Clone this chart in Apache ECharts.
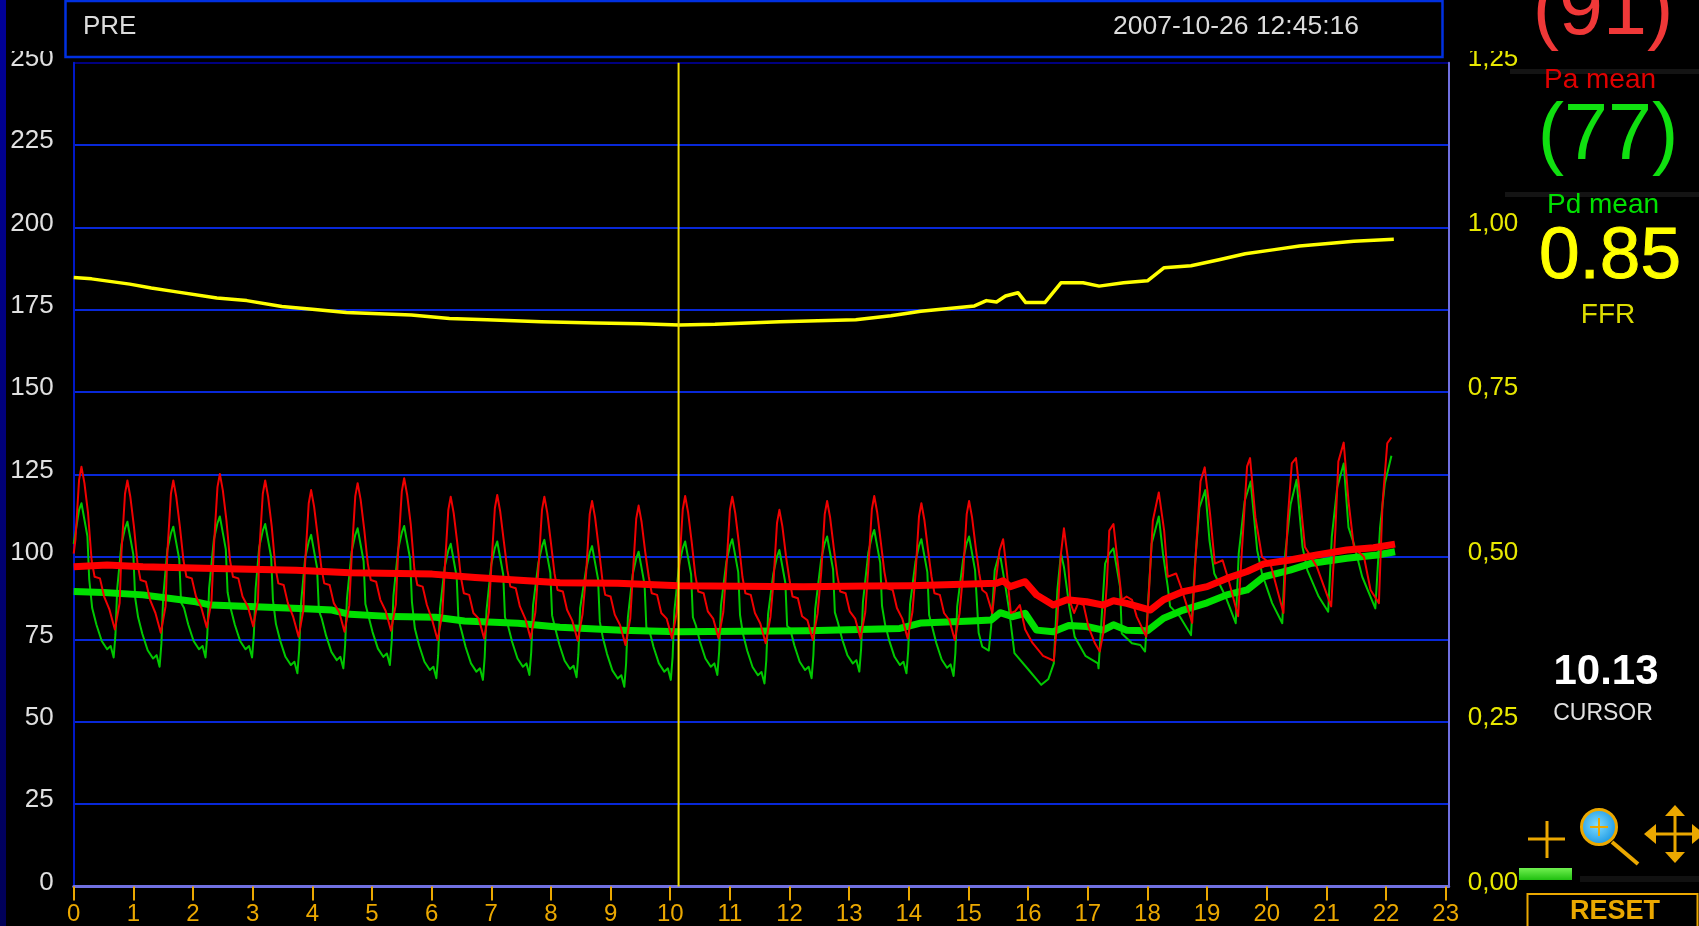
<!DOCTYPE html>
<html><head><meta charset="utf-8"><style>html,body{margin:0;padding:0;background:#000;overflow:hidden}#c{width:1699px;height:926px}</style>
<script src="https://cdn.jsdelivr.net/npm/echarts@6/dist/echarts.min.js"></script></head><body><div id="c"></div>
<script>
const xTicks=[0,1,2,3,4,5,6,7,8,9,10,11,12,13,14,15,16,17,18,19,20,21,22,23];
const cursorTime=[10.14];
const headerLabels=["PRE","2007-10-26 12:45:16"];
const readouts=["(91)","Pa mean","(77)","Pd mean","0.85","FFR","10.13","CURSOR","RESET"];
const ffr=[[0,.924],[.3,.922],[.94,.914],[1.3,.908],[1.67,.903],[2.4,.893],[2.9,.889],[3.49,.880],[4.0,.876],[4.57,.871],[5.66,.867],[6.3,.862],[6.93,.860],[7.84,.857],[8.75,.855],[9.5,.854],[10.15,.852],[10.75,.853],[11.84,.857],[13.11,.860],[13.7,.866],[14.2,.873],[15.1,.881],[15.3,.889],[15.47,.887],[15.62,.896],[15.83,.901],[15.96,.886],[16.28,.886],[16.55,.916],[16.92,.916],[17.19,.911],[17.6,.916],[18.0,.919],[18.28,.939],[18.73,.942],[19.2,.951],[19.64,.960],[20.1,.966],[20.55,.972],[21.46,.979],[22.13,.982]];
const paMean=[[0,97],[.56,97.6],[1.16,97],[2.18,96.6],[3.73,96],[4.63,95.2],[6.01,94.8],[6.73,93.8],[8.15,92.2],[9.12,92],[10.14,91.3],[12.24,91],[13.31,91.2],[14.03,91.3],[15.47,92],[15.58,92.8],[15.7,91],[15.95,92.5],[16.14,88.5],[16.42,85.4],[16.65,87],[16.98,86.4],[17.26,85.4],[17.43,86.7],[17.65,85.9],[18.05,83.9],[18.27,87],[18.6,89.5],[19,91],[19.33,93.5],[19.67,95.6],[19.95,97.9],[20.39,99.1],[20.84,100.6],[21.34,102.1],[21.79,102.8],[22.15,103.9]];
const pdMean=[[0,89.5],[.5,89.2],[1.16,88.5],[2.05,86.4],[2.3,85.4],[3.79,84.4],[4.33,83.9],[4.63,82.6],[5.35,81.9],[6.07,81.7],[6.55,80.6],[7.45,79.9],[8.15,78.7],[9.18,77.8],[10.14,77.3],[12.3,77.6],[13.85,78.3],[14.21,80],[15.05,80.6],[15.38,80.9],[15.53,83.1],[15.74,81.9],[15.95,82.9],[16.14,77.8],[16.42,77.3],[16.68,79.2],[16.98,78.9],[17.26,77.8],[17.43,79.4],[17.65,77.8],[18.0,77.6],[18.27,81.4],[18.6,83.9],[19,86.1],[19.33,88.5],[19.67,90],[19.95,94],[20.39,96],[20.73,98],[21.34,99.6],[21.85,100.6],[22.15,101.6]];
const paPhasic=[[0,101],[.03,105.4],[.09,123.4],[.13,127.4],[.18,122.4],[.24,113.4],[.30,99],[.35,94],[.44,93.5],[.51,88],[.60,84],[.69,78],[.77,86],[.80,101.2],[.86,119.2],[.90,123.2],[.95,118.2],[1.01,109.2],[1.07,98],[1.12,93],[1.21,92.5],[1.28,87],[1.37,83],[1.46,77],[1.54,85],[1.57,101.2],[1.63,119.2],[1.67,123.2],[1.72,118.2],[1.78,109.2],[1.84,99],[1.89,94],[1.98,93.5],[2.05,88],[2.14,84.6],[2.23,78.6],[2.31,86.6],[2.35,103.2],[2.41,121.2],[2.45,125.2],[2.50,120.2],[2.56,111.2],[2.62,99],[2.67,94],[2.76,93.5],[2.83,88],[2.92,84.9],[3.01,78.9],[3.09,86.9],[3.11,101.2],[3.17,119.2],[3.21,123.2],[3.26,118.2],[3.32,109.2],[3.38,97],[3.43,92],[3.52,91.5],[3.59,86],[3.68,81.8],[3.77,75.8],[3.85,83.8],[3.88,98.3],[3.94,116.3],[3.98,120.3],[4.03,115.3],[4.09,106.3],[4.15,97],[4.20,92],[4.29,91.5],[4.36,86],[4.45,83.3],[4.54,77.3],[4.62,85.3],[4.66,100.4],[4.72,118.4],[4.76,122.4],[4.81,117.4],[4.87,108.4],[4.93,98],[4.98,93],[5.07,92.5],[5.14,87],[5.23,83.6],[5.32,77.6],[5.40,85.6],[5.44,101.9],[5.50,119.9],[5.54,123.9],[5.59,118.9],[5.65,109.9],[5.71,96.5],[5.76,91.5],[5.85,91],[5.92,85.5],[6.01,80.8],[6.10,74.8],[6.18,82.8],[6.22,96.3],[6.28,114.3],[6.32,118.3],[6.37,113.3],[6.43,104.3],[6.49,94],[6.54,89],[6.63,88.5],[6.70,83],[6.79,81.3],[6.88,75.3],[6.96,83.3],[7.00,96.8],[7.06,114.8],[7.10,118.8],[7.15,113.8],[7.21,104.8],[7.27,96],[7.32,91],[7.41,90.5],[7.48,85],[7.57,81.3],[7.66,75.3],[7.74,83.3],[7.79,96.3],[7.85,114.3],[7.89,118.3],[7.94,113.3],[8.00,104.3],[8.06,95],[8.11,90],[8.20,89.5],[8.27,84],[8.36,80.6],[8.45,74.6],[8.53,82.6],[8.59,95],[8.65,113],[8.69,117],[8.74,112],[8.80,103],[8.86,93.5],[8.91,88.5],[9.00,88],[9.07,82.5],[9.16,79.3],[9.25,73.3],[9.33,81.3],[9.37,93.6],[9.43,111.6],[9.47,115.6],[9.52,110.6],[9.58,101.6],[9.64,94],[9.69,89],[9.78,88.5],[9.85,83],[9.94,81.3],[10.03,75.3],[10.11,83.3],[10.15,96.5],[10.21,114.5],[10.25,118.5],[10.30,113.5],[10.36,104.5],[10.42,94.5],[10.47,89.5],[10.56,89],[10.63,83.5],[10.72,81.3],[10.81,75.3],[10.89,83.3],[10.94,96.3],[11.00,114.3],[11.04,118.3],[11.09,113.3],[11.15,104.3],[11.21,94],[11.26,89],[11.35,88.5],[11.42,83],[11.51,79.8],[11.60,73.8],[11.68,81.8],[11.73,92.3],[11.79,110.3],[11.83,114.3],[11.88,109.3],[11.94,100.3],[12.00,93],[12.05,88],[12.14,87.5],[12.21,82],[12.30,80.8],[12.39,74.8],[12.47,82.8],[12.53,95],[12.59,113],[12.63,117],[12.68,112],[12.74,103],[12.80,94.5],[12.85,89.5],[12.94,89],[13.01,83.5],[13.10,81.3],[13.19,75.3],[13.27,83.3],[13.32,96.5],[13.38,114.5],[13.42,118.5],[13.47,113.5],[13.53,104.5],[13.59,95.5],[13.64,90.5],[13.73,90],[13.80,84.5],[13.89,81.3],[13.98,75.3],[14.06,83.3],[14.11,94.3],[14.17,112.3],[14.21,116.3],[14.26,111.3],[14.32,102.3],[14.38,94],[14.43,89],[14.52,88.5],[14.59,83],[14.68,80.8],[14.77,74.8],[14.85,82.8],[14.91,95],[14.97,113],[15.01,117],[15.06,112],[15.12,103],[15.18,95],[15.23,90],[15.30,89],[15.40,83],[15.44,90],[15.52,102],[15.58,105.4],[15.64,96],[15.71,83],[15.78,83.5],[15.86,85.4],[15.95,78],[16.07,74],[16.25,70],[16.43,68.5],[16.49,81],[16.55,101],[16.60,108.7],[16.67,99],[16.71,86],[16.77,83],[16.84,86.1],[16.93,85.4],[17.01,78.9],[17.12,73.8],[17.2,71.3],[17.26,77],[17.32,92],[17.36,108],[17.43,110],[17.51,97],[17.57,87],[17.65,88],[17.74,87],[17.82,81.9],[17.98,75.8],[18.03,91],[18.09,111],[18.19,119.6],[18.28,108],[18.34,94],[18.48,95],[18.56,91],[18.75,80],[18.81,101],[18.89,123],[18.96,127.2],[19.05,113],[19.13,98],[19.26,99],[19.36,93],[19.52,82],[19.58,101],[19.67,127.5],[19.72,130],[19.81,112],[19.92,100],[20.06,98],[20.28,83],[20.35,111],[20.42,128.4],[20.49,130],[20.56,118],[20.64,103],[20.84,97],[21.08,85],[21.15,108],[21.2,129],[21.29,134.7],[21.37,117],[21.46,103],[21.63,100],[21.74,90],[21.88,86],[21.94,116],[22.02,134.5],[22.09,136.3]];
const pdPhasic=[[0,104],[.09,114.3],[.13,116.3],[.18,111.3],[.23,106.3],[.26,93.3],[.31,84.5],[.38,79.5],[.47,74.5],[.56,72],[.62,73],[.67,69.5],[.70,76.5],[.73,90.5],[.80,103.7],[.86,108.7],[.90,110.7],[.95,105.7],[1.00,100.7],[1.03,87.7],[1.08,81.7],[1.15,76.7],[1.24,71.7],[1.33,69.2],[1.39,70.2],[1.44,66.7],[1.47,73.7],[1.50,87.7],[1.57,102.2],[1.63,107.2],[1.67,109.2],[1.72,104.2],[1.77,99.2],[1.80,86.2],[1.85,84.5],[1.92,79.5],[2.01,74.5],[2.10,72],[2.16,73],[2.21,69.5],[2.24,76.5],[2.27,90.5],[2.35,105.3],[2.41,110.3],[2.45,112.3],[2.50,107.3],[2.55,102.3],[2.58,89.3],[2.63,84.5],[2.70,79.5],[2.79,74.5],[2.88,72],[2.94,73],[2.99,69.5],[3.02,76.5],[3.05,90.5],[3.11,103],[3.17,108],[3.21,110],[3.26,105],[3.31,100],[3.34,87],[3.39,79.7],[3.46,74.7],[3.55,69.7],[3.64,67.2],[3.70,68.2],[3.75,64.7],[3.78,71.7],[3.81,85.7],[3.88,99.7],[3.94,104.7],[3.98,106.7],[4.03,101.7],[4.08,96.7],[4.11,83.7],[4.16,81.2],[4.23,76.2],[4.32,71.2],[4.41,68.7],[4.47,69.7],[4.52,66.2],[4.55,73.2],[4.58,87.2],[4.66,101.7],[4.72,106.7],[4.76,108.7],[4.81,103.7],[4.86,98.7],[4.89,85.7],[4.94,82.2],[5.01,77.2],[5.10,72.2],[5.19,69.7],[5.25,70.7],[5.30,67.2],[5.33,74.2],[5.36,88.2],[5.44,102.4],[5.50,107.4],[5.54,109.4],[5.59,104.4],[5.64,99.4],[5.67,86.4],[5.72,78.2],[5.79,73.2],[5.88,68.2],[5.97,65.7],[6.03,66.7],[6.08,63.2],[6.11,70.2],[6.14,84.2],[6.22,97],[6.28,102],[6.32,104],[6.37,99],[6.42,94],[6.45,81],[6.50,77.7],[6.57,72.7],[6.66,67.7],[6.75,65.2],[6.81,66.2],[6.86,62.7],[6.89,69.7],[6.92,83.7],[7.00,97.7],[7.06,102.7],[7.10,104.7],[7.15,99.7],[7.20,94.7],[7.23,81.7],[7.28,79.2],[7.35,74.2],[7.44,69.2],[7.53,66.7],[7.59,67.7],[7.64,64.2],[7.67,71.2],[7.70,85.2],[7.79,98.2],[7.85,103.2],[7.89,105.2],[7.94,100.2],[7.99,95.2],[8.02,82.2],[8.07,78.5],[8.14,73.5],[8.23,68.5],[8.32,66],[8.38,67],[8.43,63.5],[8.46,70.5],[8.49,84.5],[8.59,96.3],[8.65,101.3],[8.69,103.3],[8.74,98.3],[8.79,93.3],[8.82,80.3],[8.87,75.6],[8.94,70.6],[9.03,65.6],[9.12,63.1],[9.18,64.1],[9.23,60.6],[9.26,67.6],[9.29,81.6],[9.37,94.6],[9.43,99.6],[9.47,101.6],[9.52,96.6],[9.57,91.6],[9.60,78.6],[9.65,77.7],[9.72,72.7],[9.81,67.7],[9.90,65.2],[9.96,66.2],[10.01,62.7],[10.04,69.7],[10.07,83.7],[10.15,97.7],[10.21,102.7],[10.25,104.7],[10.30,99.7],[10.35,94.7],[10.38,81.7],[10.43,79.2],[10.50,74.2],[10.59,69.2],[10.68,66.7],[10.74,67.7],[10.79,64.2],[10.82,71.2],[10.85,85.2],[10.94,98.4],[11.00,103.4],[11.04,105.4],[11.09,100.4],[11.14,95.4],[11.17,82.4],[11.22,76.6],[11.29,71.6],[11.38,66.6],[11.47,64.1],[11.53,65.1],[11.58,61.6],[11.61,68.6],[11.64,82.6],[11.73,95.1],[11.79,100.1],[11.83,102.1],[11.88,97.1],[11.93,92.1],[11.96,79.1],[12.01,78.2],[12.08,73.2],[12.17,68.2],[12.26,65.7],[12.32,66.7],[12.37,63.2],[12.40,70.2],[12.43,84.2],[12.53,99.2],[12.59,104.2],[12.63,106.2],[12.68,101.2],[12.73,96.2],[12.76,83.2],[12.81,80.2],[12.88,75.2],[12.97,70.2],[13.06,67.7],[13.12,68.7],[13.17,65.2],[13.20,72.2],[13.23,86.2],[13.32,101.2],[13.38,106.2],[13.42,108.2],[13.47,103.2],[13.52,98.2],[13.55,85.2],[13.60,79.7],[13.67,74.7],[13.76,69.7],[13.85,67.2],[13.91,68.2],[13.96,64.7],[13.99,71.7],[14.02,85.7],[14.11,98.4],[14.17,103.4],[14.21,105.4],[14.26,100.4],[14.31,95.4],[14.34,82.4],[14.39,78.9],[14.46,73.9],[14.55,68.9],[14.64,66.4],[14.70,67.4],[14.75,63.9],[14.78,70.9],[14.81,84.9],[14.91,99.2],[14.97,104.2],[15.01,106.2],[15.11,96],[15.17,77],[15.23,72.8],[15.34,71.6],[15.38,79],[15.44,96],[15.5,100],[15.54,99.5],[15.62,91],[15.68,84],[15.77,70.8],[16.01,65.7],[16.22,61.2],[16.34,63],[16.43,67.7],[16.49,90],[16.55,101],[16.6,97],[16.69,85],[16.78,75.8],[16.96,70],[17.17,67.7],[17.18,66.2],[17.23,81],[17.29,98],[17.36,101],[17.43,102.6],[17.54,91],[17.57,76.8],[17.74,73.8],[17.88,73.3],[17.96,71.3],[18.0,83],[18.07,104],[18.19,112.3],[18.26,101],[18.34,91],[18.38,85],[18.54,82],[18.73,76.3],[18.79,96],[18.87,115],[18.97,120.3],[19.04,105],[19.12,95],[19.31,88],[19.48,79.9],[19.53,101],[19.63,117],[19.73,122.9],[19.84,102],[19.92,95],[20.09,86],[20.26,79.9],[20.31,101],[20.4,116],[20.5,123.4],[20.6,103],[20.68,96],[20.87,88],[21.03,83.4],[21.09,106],[21.18,121],[21.29,128.4],[21.37,109],[21.46,104],[21.6,94],[21.82,84.4],[21.9,109],[21.98,122.4],[22.09,130.7]];

const sans="'Liberation Sans',Arial,sans-serif";
const line=(name,data,color,width,yAxisIndex,z)=>({name,type:'line',data,yAxisIndex:yAxisIndex||0,symbol:'none',showSymbol:false,silent:true,z,
  lineStyle:{color,width,join:'round'},itemStyle:{color},emphasis:{disabled:true}});
const txt=(text,x,y,size,fill,opts)=>({type:'text',z:200,silent:true,style:Object.assign({text,x,y,fill,font:`${size}px ${sans}`,textAlign:'center',textVerticalAlign:'middle'},opts||{})});
const rect=(x,y,w,h,fill,z)=>({type:'rect',silent:true,z:z||150,shape:{x,y,width:w,height:h},style:{fill}});
const seg=(x1,y1,x2,y2,col,w)=>({type:'line',silent:true,z:200,shape:{x1,y1,x2,y2},style:{stroke:col,lineWidth:w}});
const tri=(pts,col)=>({type:'polygon',silent:true,z:200,shape:{points:pts},style:{fill:col}});
const orange='#eba800';

const chart=echarts.init(document.getElementById('c'),null,{renderer:'canvas'});
chart.setOption({
  animation:false,backgroundColor:'#000',
  grid:{left:73.7,top:62.7,width:1375,height:823.8,containLabel:false,outerBoundsMode:'none'},
  xAxis:[{type:'value',min:0,max:23.05,offset:4,splitLine:{show:false},axisLine:{show:false},
      axisTick:{show:true,length:14,lineStyle:{color:orange,width:2},customValues:xTicks},
      axisLabel:{color:orange,fontFamily:sans,fontSize:24,margin:12,customValues:xTicks,hideOverlap:false,formatter:v=>String(v)}},
    {type:'value',min:0,max:23.05,position:'bottom',splitLine:{show:false},axisTick:{show:false},axisLabel:{show:false},
      axisLine:{show:true,onZero:false,lineStyle:{color:'#7070e0',width:3}}}],
  yAxis:[{type:'value',min:0,max:250,interval:25,axisTick:{show:false},
      axisLine:{show:true,onZero:false,lineStyle:{color:'#0018c8',width:2}},
      axisLabel:{color:'#e0e0e0',fontFamily:sans,fontSize:26,margin:20,verticalAlign:'bottom',lineHeight:8},
      splitLine:{show:true,lineStyle:{width:2,color:['#0828d8','#0828d8','#0828d8','#0828d8','#0828d8','#0828d8','#0828d8','#0828d8','#0828d8','#0828d8','#000080']}}},
    {type:'value',min:0,max:1.25,interval:.25,position:'right',axisTick:{show:false},splitLine:{show:false},
      axisLine:{show:true,onZero:false,lineStyle:{color:'#7070e0',width:2}},
      axisLabel:{color:'#e8e800',fontFamily:sans,fontSize:26,margin:19,verticalAlign:'bottom',lineHeight:8,formatter:v=>v.toFixed(2).replace('.',',')}}],
  series:[
    line('FFR',ffr,'#ffff00',3.5,1,3),
    line('Pd phasic',pdPhasic,'#00c800',2,0,4),
    line('Pd mean',pdMean,'#00e000',7,0,5),
    line('Pa phasic',paPhasic,'#f00000',2,0,6),
    line('Pa mean',paMean,'#ff0000',7,0,7),
    {type:'line',name:'Cursor',symbol:'none',silent:true,z:8,data:[[cursorTime[0],0],[cursorTime[0],250]],lineStyle:{color:'#f0e000',width:2}}
  ],
  graphic:[
    {type:'rect',silent:true,z:150,shape:{x:0,y:0,width:6,height:926},style:{fill:new echarts.graphic.LinearGradient(0,0,0,1,[{offset:0,color:'#000098'},{offset:1,color:'#000058'}])}},
    rect(6,0,59,51,'#000'),rect(1450,0,90,51,'#000'),
    {type:'rect',silent:true,z:160,shape:{x:65.5,y:1,width:1377,height:56},style:{fill:'#000',stroke:'#0030e0',lineWidth:2.5}},
    txt(headerLabels[0],83,27,26,'#dcdcdc',{textAlign:'left'}),
    txt(headerLabels[1],1236,27,26.5,'#dcdcdc'),
    rect(1510,69,189,5,'#141414',140),rect(1505,192,194,5,'#141414',140),rect(1580,876,119,6,'#111',140),
    txt(readouts[0],1603,12,79,'#f03838'),
    txt(readouts[1],1600,80,28,'#e00000'),
    txt(readouts[2],1608,137,79,'#10e010'),
    txt(readouts[3],1603,205,28,'#00e000'),
    txt(readouts[4],1610,258,73,'#ffff00',{stroke:'#ffff00',lineWidth:1}),
    txt(readouts[5],1608,315,28,'#dcdc00'),
    txt(readouts[6],1606,672,42,'#ffffff',{font:`bold 42px ${sans}`}),
    txt(readouts[7],1603,714,23,'#e0e0e0'),
    seg(1528,839,1565,839,orange,3),seg(1547,821,1547,858,orange,3),
    seg(1612,842,1638,864,orange,4),
    {type:'circle',silent:true,z:200,shape:{cx:1599,cy:827,r:17.5},style:{stroke:orange,lineWidth:3,fill:new echarts.graphic.RadialGradient(.45,.45,.6,[{offset:0,color:'#7fdcff'},{offset:1,color:'#1090e0'}])}},
    seg(1590,827,1608,827,orange,2),seg(1599,818,1599,836,orange,2),
    seg(1650,834,1699,834,orange,3),seg(1675,808,1675,860,orange,3),
    tri([[1675,805],[1665,816],[1685,816]],orange),tri([[1675,863],[1665,852],[1685,852]],orange),
    tri([[1644,834],[1656,824],[1656,844]],orange),tri([[1704,834],[1692,824],[1692,844]],orange),
    {type:'rect',silent:true,z:200,shape:{x:1519,y:868,width:53,height:12},style:{fill:new echarts.graphic.LinearGradient(0,0,0,1,[{offset:0,color:'#70f050'},{offset:1,color:'#20c010'}])}},
    {type:'rect',silent:true,z:200,shape:{x:1527.5,y:894,width:170,height:34},style:{fill:'#000',stroke:orange,lineWidth:2}},
    txt(readouts[8],1615,912,27,orange,{font:`bold 27px ${sans}`})
  ]
});
</script></body></html>
